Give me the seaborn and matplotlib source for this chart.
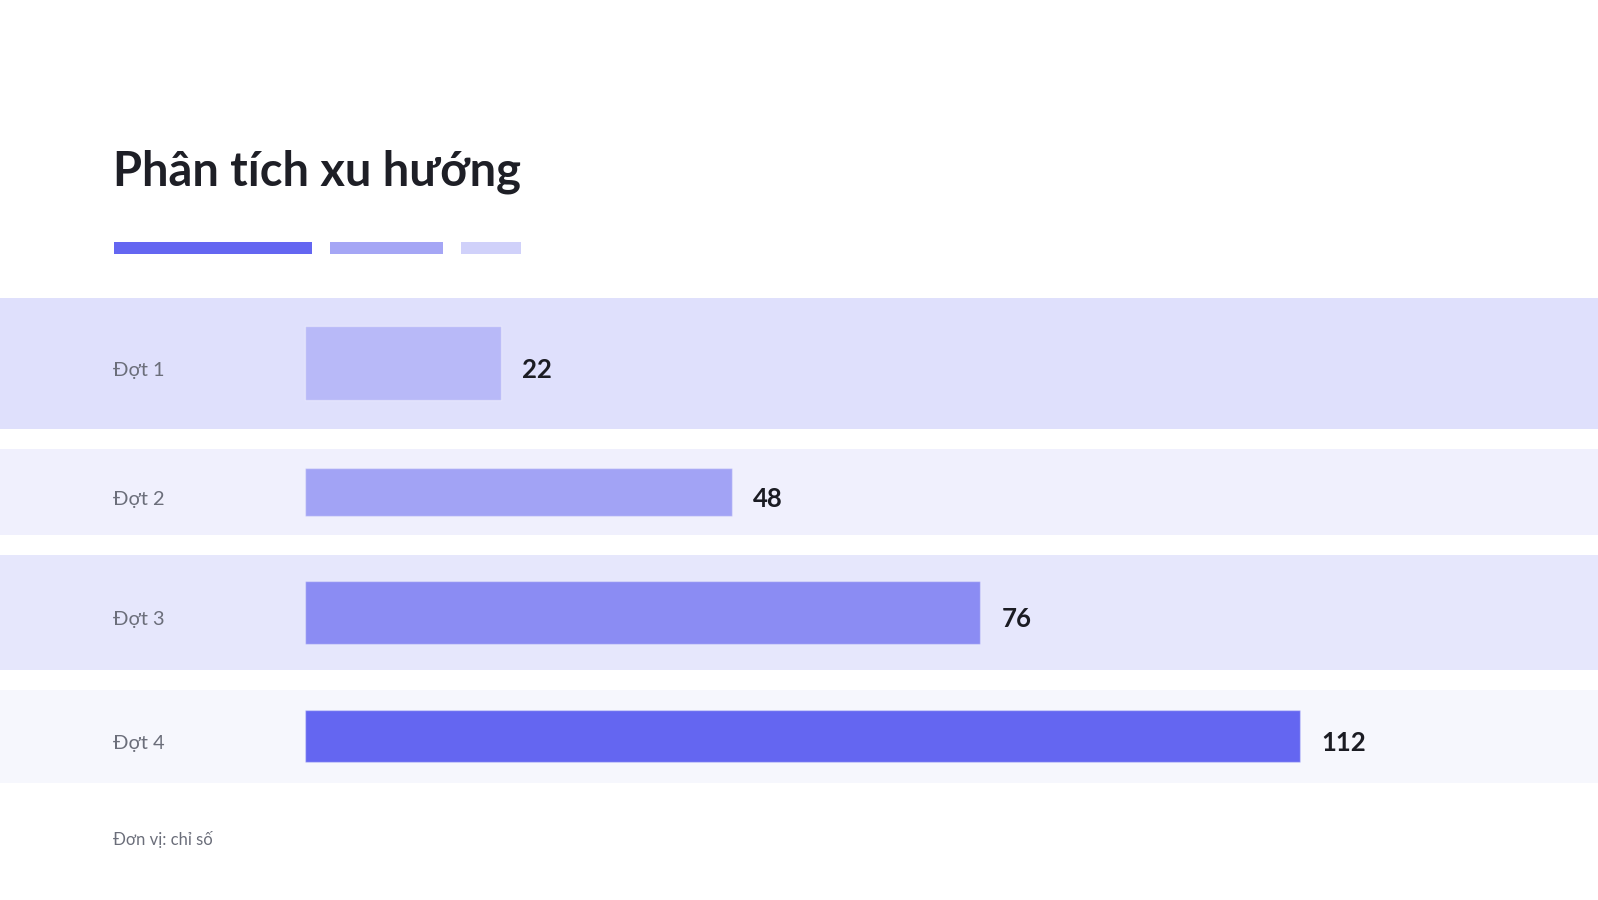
import matplotlib
matplotlib.use("Agg")
import matplotlib.pyplot as plt
import seaborn as sns
import pandas as pd
from matplotlib.patches import Rectangle

# ---- data ----
categories = ["Đợt 1", "Đợt 2", "Đợt 3", "Đợt 4"]
values = [22, 48, 76, 112]
title = "Phân tích xu hướng"
footer = "Đơn vị: chỉ số"

# ---- style / layout ----
bar_colors = ["#b8b9f8", "#a2a3f5", "#8b8cf3", "#6466f1"]
band_colors = ["#dfe0fc", "#f0f0fd", "#e6e7fc", "#f6f7fd"]
band_top_px = [297.5, 449.4, 555.4, 690.0]
band_bot_px = [429.0, 535.0, 669.5, 782.6]
bar_frac = 0.56
W, H = 1598, 900
x0_px = 305.0
px_per_unit = 8.887

sns.set_theme(style="white")
plt.rcParams["font.family"] = ["Lato", "Noto Sans", "DejaVu Sans"]

fig = plt.figure(figsize=(W / 100, H / 100), dpi=100)
fig.patch.set_facecolor("white")
ax = fig.add_axes([0, 0, 1, 1])

df = pd.DataFrame({"cat": categories, "val": values})
sns.barplot(data=df, x="val", y="cat", hue="cat", palette=bar_colors,
            orient="h", legend=False, ax=ax, saturation=1,
            edgecolor=(1, 1, 1, 0.35), linewidth=1)

ax.set_xlim(-x0_px / px_per_unit, (W - x0_px) / px_per_unit)
ax.set_ylim(H, 0)
ax.set_axis_off()

# background bands
for top, bot, c in zip(band_top_px, band_bot_px, band_colors):
    ax.axhspan(top, bot, color=c, zorder=0, lw=0)

# reposition bars into their bands
patches = [p for p in ax.patches if isinstance(p, Rectangle)]
patches = sorted(patches, key=lambda p: p.get_y())
for p, top, bot in zip(patches, band_top_px, band_bot_px):
    center = (top + bot) / 2
    h = (bot - top) * bar_frac
    p.set_y(center - h / 2)
    p.set_height(h)
    p.set_zorder(2)

# labels
lab_x = -(x0_px - 113) / px_per_unit
for cat, v, top, bot in zip(categories, values, band_top_px, band_bot_px):
    center = (top + bot) / 2
    ax.text(lab_x, center + 13, cat, fontsize=14.4, color="#6b6e7a",
            va="baseline", ha="left", zorder=3)
    ax.text(v + 21 / px_per_unit, center + 15, str(v), fontsize=18.5,
            fontweight="bold", color="#1b1c23", va="baseline", ha="left",
            zorder=3)

# title
fig.text(113 / W, 1 - 186 / H, title, fontsize=33.8, fontweight="bold",
         color="#1e1f26", va="baseline", ha="left")

# accent bars
accent = [(114, 311.5, "#6466f1"), (329.5, 443.2, "#a5a6f5"),
          (461.5, 521.2, "#d0d1fa")]
for xa, xb, c in accent:
    fig.add_artist(Rectangle((xa / W, 1 - 253.7 / H), (xb - xa) / W,
                             11.4 / H, transform=fig.transFigure,
                             color=c, lw=0))

# footer
fig.text(113 / W, 1 - 845 / H, footer, fontsize=12, color="#6b6e7a",
         va="baseline", ha="left")

fig.savefig("out.png", dpi=100, facecolor="white")
